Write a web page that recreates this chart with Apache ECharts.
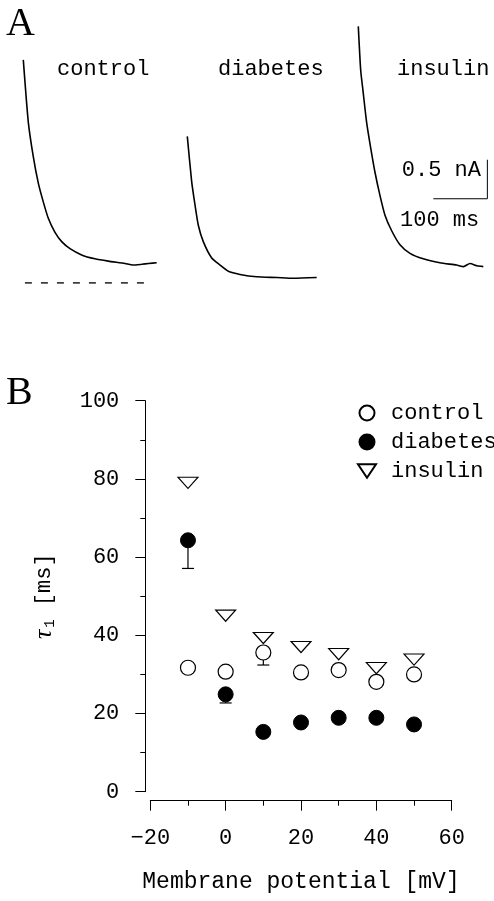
<!DOCTYPE html>
<html><head><meta charset="utf-8">
<script src="https://cdn.jsdelivr.net/npm/echarts@6/dist/echarts.min.js"></script>
<style>html,body{margin:0;padding:0;background:#fff}#c{width:494px;height:901px}</style>
</head><body><div id="c"></div>
<script>
// ---------- Panel A: current traces (time in ms, current in nA) ----------
const traceNames = ['control', 'diabetes', 'insulin'];
const controlTime    = [0, 9.3, 18.5, 27.8, 37, 46.3, 58.7, 71.1, 86.5, 108, 132.6, 157.4, 188.3, 203, 219.3, 232, 247];
const controlCurrent = [2.86, 2.06, 1.62, 1.28, 1.04, 0.83, 0.65, 0.53, 0.44, 0.36, 0.31, 0.28, 0.25, 0.23, 0.24, 0.25, 0.26];
const diabetesTime    = [0, 8.1, 14.3, 20.4, 29.6, 45.2, 60.6, 76, 97.6, 128.5, 165.6, 196.3, 239.6];
const diabetesCurrent = [1.88, 1.30, 1.00, 0.74, 0.53, 0.32, 0.23, 0.15, 0.11, 0.08, 0.07, 0.06, 0.07];
const insulinTime    = [0, 4.4, 8.6, 15.4, 23, 30.9, 40.2, 49.4, 61.8, 77.2, 95.7, 120.3, 151, 182, 195, 206.8, 220, 231.5];
const insulinCurrent = [3.29, 2.73, 2.47, 2.06, 1.73, 1.42, 1.12, 0.87, 0.67, 0.49, 0.38, 0.31, 0.26, 0.23, 0.21, 0.25, 0.22, 0.21];
const zeroLineTime = [3, 231];
const scaleBarOrigin = [139, 1.08];   // ms, nA
const scaleBarTime = 100;             // ms
const scaleBarCurrent = 0.5;          // nA
const scaleBarLabels = ['0.5 nA', '100 ms'];

// ---------- Panel B: tau1 vs membrane potential ----------
const potentials  = [-10, 0, 10, 20, 30, 40, 50];
const controlTau  = [31.7, 30.7, 35.6, 30.5, 31.1, 28.1, 30.0];
const diabetesTau = [64.3, 24.9, 15.3, 17.7, 18.9, 18.9, 17.2];
const insulinTau  = [79.0, 45.0, 39.3, 37.0, 35.2, 31.6, 33.8];
const errPotential = [-10, 0, 10];
const errTau       = [64.3, 24.9, 35.6];
const errLower     = [57.1, 22.7, 32.4];
const xTicks = [-20, 0, 20, 40, 60];
const yTicks = [0, 20, 40, 60, 80, 100];
const xAxisTitle = 'Membrane potential [mV]';

const MONO = '"Liberation Mono", "DejaVu Sans Mono", monospace';
const SERIF = '"Liberation Serif", "DejaVu Serif", serif';
const zip = (a, b) => a.map((v, i) => [v, b[i]]);

const traces = [zip(controlTime, controlCurrent), zip(diabetesTime, diabetesCurrent), zip(insulinTime, insulinCurrent)];
const traceLeft = [23.3, 187.3, 358.3];

const grids = traceLeft.map(l => ({left: l, top: 10, width: 135, height: 273}));
grids.push({left: 150.3, top: 400.7, width: 301.4, height: 391});

const xAxes = traceLeft.map((l, i) => ({gridIndex: i, type: 'value', min: 0, max: 250, show: false}));
const yAxes = traceLeft.map((l, i) => ({gridIndex: i, type: 'value', min: 0, max: 3.5, show: false}));

const axisCommon = () => ({
  axisLine: {show: true, onZero: false, lineStyle: {color: '#000', width: 1}},
  axisTick: {show: true, length: 10, lineStyle: {color: '#000', width: 1}},
  minorTick: {show: true, splitNumber: 2, length: 5, lineStyle: {color: '#000', width: 1}},
  splitLine: {show: false},
  minorSplitLine: {show: false}
});
xAxes.push(Object.assign({
  gridIndex: 3, type: 'value', min: xTicks[0], max: xTicks[xTicks.length - 1],
  interval: xTicks[1] - xTicks[0], offset: 9,
  name: xAxisTitle, nameLocation: 'middle', nameGap: 70,
  nameTextStyle: {fontFamily: MONO, fontSize: 23, color: '#000'},
  axisLabel: {fontFamily: MONO, fontSize: 22, color: '#000', margin: 26,
    formatter: v => (v < 0 ? '\u2212' + (-v) : String(v))}
}, axisCommon()));
yAxes.push(Object.assign({
  gridIndex: 3, type: 'value', min: yTicks[0], max: yTicks[yTicks.length - 1],
  interval: yTicks[1] - yTicks[0], offset: 5,
  name: '{tau|\u03c4}{sub|1}{n| [ms]}', nameLocation: 'middle', nameGap: 88, nameRotate: 90,
  nameTextStyle: {fontFamily: MONO, fontSize: 22, color: '#000',
    rich: {
      tau: {fontFamily: SERIF, fontStyle: 'italic', fontSize: 26, color: '#000'},
      sub: {fontFamily: MONO, fontSize: 14, color: '#000', verticalAlign: 'bottom', padding: [10, 0, 0, 2]},
      n: {fontFamily: MONO, fontSize: 22, color: '#000'}
    }},
  axisLabel: {fontFamily: MONO, fontSize: 22, color: '#000', margin: 26}
}, axisCommon()));

const series = [];
traces.forEach((d, i) => series.push({
  type: 'line', xAxisIndex: i, yAxisIndex: i, data: d, showSymbol: false, smooth: 0.2,
  lineStyle: {color: '#000', width: 1.6}, silent: true
}));
series.push({
  type: 'line', xAxisIndex: 0, yAxisIndex: 0, showSymbol: false, silent: true,
  data: zeroLineTime.map(t => [t, 0]),
  lineStyle: {color: '#000', width: 1.3, type: [7, 9]}
});
series.push({
  type: 'line', xAxisIndex: 2, yAxisIndex: 2, showSymbol: false, silent: true,
  data: [scaleBarOrigin,
         [scaleBarOrigin[0] + scaleBarTime, scaleBarOrigin[1]],
         [scaleBarOrigin[0] + scaleBarTime, scaleBarOrigin[1] + scaleBarCurrent]],
  lineStyle: {color: '#000', width: 1}
});
series.push({
  type: 'custom', xAxisIndex: 3, yAxisIndex: 3, silent: true, z: 1,
  data: errPotential.map((x, i) => [x, errTau[i], errLower[i]]),
  renderItem: (params, api) => {
    const p1 = api.coord([api.value(0), api.value(1)]);
    const p2 = api.coord([api.value(0), api.value(2)]);
    return {type: 'group', children: [
      {type: 'line', shape: {x1: p1[0], y1: p1[1] + 7.5, x2: p2[0], y2: p2[1]}, style: {stroke: '#000', lineWidth: 1.2}},
      {type: 'line', shape: {x1: p2[0] - 6, y1: p2[1], x2: p2[0] + 6, y2: p2[1]}, style: {stroke: '#000', lineWidth: 1.2}}
    ]};
  }
});
const hollow = {color: 'rgba(255,255,255,0)', borderColor: '#000', borderWidth: 1.2, opacity: 1};
const downTriangle = 'path://M0,0 L20,0 L10,15 Z';
series.push({type: 'scatter', name: 'control', xAxisIndex: 3, yAxisIndex: 3, z: 3,
  symbol: 'circle', symbolSize: 15, itemStyle: hollow, emphasis: {disabled: true},
  data: zip(potentials, controlTau)});
series.push({type: 'scatter', name: 'diabetes', xAxisIndex: 3, yAxisIndex: 3, z: 3,
  symbol: 'circle', symbolSize: 15, itemStyle: {color: '#000', borderColor: '#000', borderWidth: 1, opacity: 1},
  emphasis: {disabled: true}, data: zip(potentials, diabetesTau)});
series.push({type: 'scatter', name: 'insulin', xAxisIndex: 3, yAxisIndex: 3, z: 3,
  symbol: downTriangle, symbolSize: [20, 15], symbolKeepAspect: true, itemStyle: hollow,
  emphasis: {disabled: true}, data: zip(potentials, insulinTau)});

const txt = (text, x, y, font, align, valign) => ({
  type: 'text', x: x, y: y, silent: true,
  style: {text: text, font: font, fill: '#000', align: align || 'left', verticalAlign: valign || 'middle'}
});
const graphics = [
  txt('A', 6, 24, '40px ' + SERIF),
  txt('B', 6, 393, '40px ' + SERIF),
  txt(traceNames[0], 57, 69, '22px ' + MONO),
  txt(traceNames[1], 218, 69, '22px ' + MONO),
  txt(traceNames[2], 397, 69, '22px ' + MONO),
  txt(scaleBarLabels[0], 481, 170, '22px ' + MONO, 'right'),
  txt(scaleBarLabels[1], 400, 220, '22px ' + MONO)
];

const chart = echarts.init(document.getElementById('c'), null, {renderer: 'canvas'});
chart.setOption({
  animation: false,
  backgroundColor: '#fff',
  grid: grids, xAxis: xAxes, yAxis: yAxes, series: series,
  legend: {
    data: [{name: 'control'}, {name: 'diabetes'}, {name: 'insulin', icon: downTriangle}],
    orient: 'vertical', left: 352, top: 397,
    itemWidth: 18, itemHeight: 15, itemGap: 7, selectedMode: false,
    textStyle: {fontFamily: MONO, fontSize: 22, color: '#000', padding: [0, 0, 0, 10]}
  },
  graphic: graphics
});
</script></body></html>
